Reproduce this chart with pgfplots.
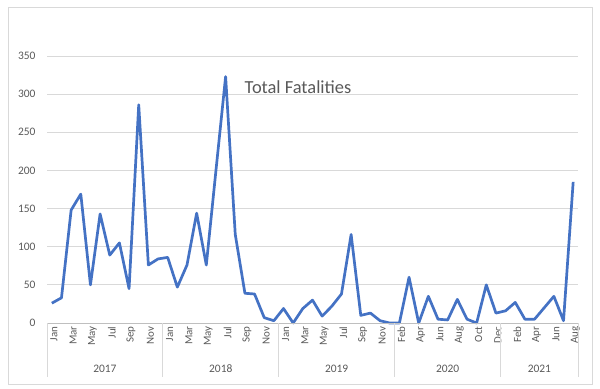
\documentclass[border=0pt]{standalone}
\usepackage{pgfplots}
\pgfplotsset{compat=1.18}
\usepackage{fontspec}
\setmainfont{Carlito}
\definecolor{linec}{HTML}{4472C4}
\definecolor{gridc}{HTML}{D9D9D9}
\definecolor{axc}{HTML}{BFBFBF}
\definecolor{txtc}{HTML}{595959}
\pgfplotstableread{
x y
0 26
1 33
2 148
3 169
4 50
5 143
6 89
7 105
8 45
9 286
10 76
11 84
12 86
13 47
14 76
15 144
16 76
17 200
18 323
19 116
20 39
21 38
22 7
23 3
24 19
25 0
26 19
27 30
28 9
29 22
30 38
31 116
32 10
33 13
34 3
35 0
36 0
37 60
38 0
39 35
40 5
41 4
42 31
43 5
44 0
45 50
46 13
47 16
48 27
49 5
50 5
51 20
52 35
53 3
54 185
}\fatal
\begin{document}
\begin{tikzpicture}[x=1bp,y=1bp]
\path (0,0) rectangle (600,388);
\draw[gridc, line width=0.8bp] (8,4) rectangle (592,381);
\begin{axis}[
  at={(47bp,65bp)}, anchor=south west,
  scale only axis, width=531bp, height=267bp,
  xmin=-0.5, xmax=54.5, ymin=0, ymax=350,
  ytick={0,50,...,350},
  ymajorgrids, grid style={gridc, line width=0.8bp},
  axis line style={draw=none},
  major tick length=0pt,
  xtick={0,2,...,54},
  xticklabels={Jan,Mar,May,Jul,Sep,Nov,Jan,Mar,May,Jul,Sep,Nov,Jan,Mar,May,Jul,Sep,Nov,Feb,Apr,Jun,Aug,Oct,Dec,Feb,Apr,Jun,Aug},
  x tick label style={rotate=90, anchor=east, yshift=-2bp, font=\fontsize{11}{12}\selectfont, text=txtc},
  y tick label style={xshift=-8bp, font=\fontsize{11.5}{12}\selectfont, text=txtc},
  /pgf/number format/assume math mode=true,
  clip=false,
]
\addplot[linec, line width=2.7bp, line join=round, mark=none] table[x=x,y=y] {\fatal};
\draw[axc, line width=0.8bp] (axis cs:-0.5,0) -- (axis cs:54.5,0);
\draw[gridc, line width=0.8bp] (axis cs:-0.5,0) -- ([yshift=-54bp]axis cs:-0.5,0);
\draw[gridc, line width=0.8bp] (axis cs:11.5,0) -- ([yshift=-54bp]axis cs:11.5,0);
\draw[gridc, line width=0.8bp] (axis cs:23.5,0) -- ([yshift=-54bp]axis cs:23.5,0);
\draw[gridc, line width=0.8bp] (axis cs:35.5,0) -- ([yshift=-54bp]axis cs:35.5,0);
\draw[gridc, line width=0.8bp] (axis cs:46.5,0) -- ([yshift=-54bp]axis cs:46.5,0);
\draw[gridc, line width=0.8bp] (axis cs:54.5,0) -- ([yshift=-54bp]axis cs:54.5,0);
\node[text=txtc, font=\fontsize{11.5}{12}\selectfont] at ([yshift=-46bp]axis cs:5.5,0) {2017};
\node[text=txtc, font=\fontsize{11.5}{12}\selectfont] at ([yshift=-46bp]axis cs:17.5,0) {2018};
\node[text=txtc, font=\fontsize{11.5}{12}\selectfont] at ([yshift=-46bp]axis cs:29.5,0) {2019};
\node[text=txtc, font=\fontsize{11.5}{12}\selectfont] at ([yshift=-46bp]axis cs:41,0) {2020};
\node[text=txtc, font=\fontsize{11.5}{12}\selectfont] at ([yshift=-46bp]axis cs:50.5,0) {2021};
\node[anchor=base, text=txtc, font=\fontsize{18.5}{20}\selectfont] at ([yshift=1bp]axis cs:25.5,300) {Total Fatalities};
\end{axis}
\end{tikzpicture}
\end{document}
